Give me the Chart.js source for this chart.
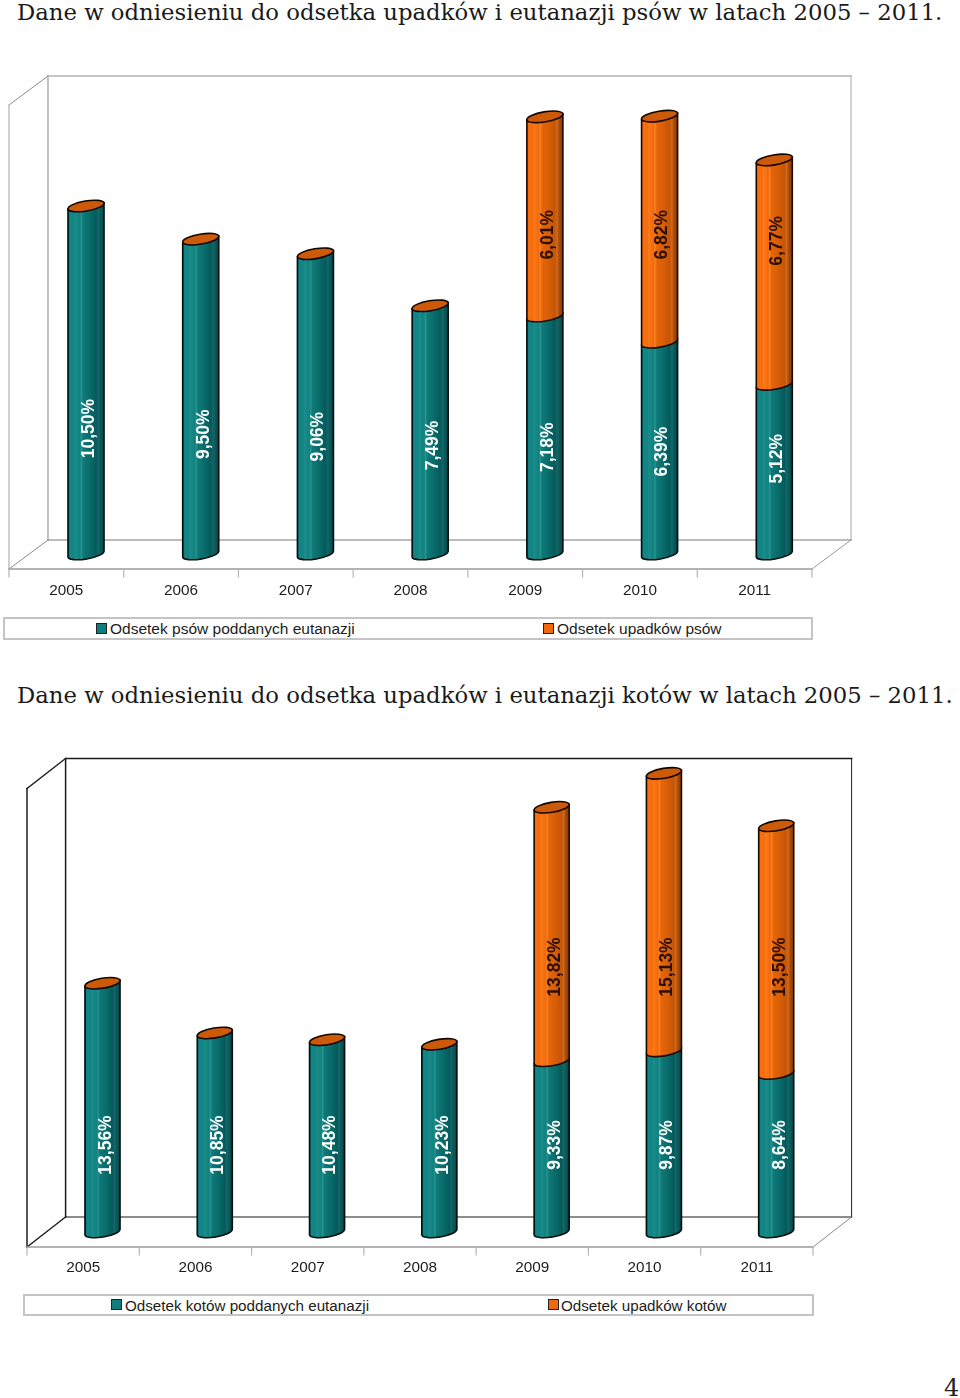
<!DOCTYPE html>
<html lang="pl"><head><meta charset="utf-8">
<script src="https://cdn.jsdelivr.net/npm/chart.js@4"></script>
<style>
html,body{margin:0;padding:0;background:#fff}
#page{position:relative;width:960px;height:1398px;overflow:hidden}
canvas{position:absolute;left:0}
.title{position:absolute;left:17px;font-family:"DejaVu Serif",serif;font-size:22.75px;color:#1a1a1a;white-space:nowrap;line-height:26px}
.legend{position:absolute;border:2px solid #c4c4c4;box-sizing:border-box;background:#fff}
.item{position:absolute;top:0;font-family:"Liberation Sans",Arial,sans-serif;color:#1c1c1c;white-space:nowrap;line-height:20px}
.sw{position:absolute;width:9px;height:9px;border:1px solid #222;box-sizing:content-box}
#pn{position:absolute;left:944px;top:1374px;font:24px "DejaVu Serif",serif;color:#222}
</style></head><body>
<div id="page">
<div class="title" id="t1" style="top:-1px">Dane w odniesieniu do odsetka upadków i eutanazji psów w latach 2005 – 2011.</div>
<canvas id="c1" width="960" height="545" style="top:60px"></canvas>
<div class="legend" id="l1" style="left:3px;top:617px;width:810px;height:23px"></div>
<div class="title" id="t2" style="top:682px">Dane w odniesieniu do odsetka upadków i eutanazji kotów w latach 2005 – 2011.</div>
<canvas id="c2" width="960" height="540" style="top:745px"></canvas>
<div class="legend" id="l2" style="left:23px;top:1294px;width:791px;height:22px"></div>
<div id="pn">4</div>
</div>
<script>
const categories = ['2005','2006','2007','2008','2009','2010','2011'];
const dogsEuthanized = [10.50, 9.50, 9.06, 7.49, 7.18, 6.39, 5.12];
const dogsAccidents  = [0, 0, 0, 0, 6.01, 6.82, 6.77];
const catsEuthanized = [13.56, 10.85, 10.48, 10.23, 9.33, 9.87, 8.64];
const catsAccidents  = [0, 0, 0, 0, 13.82, 15.13, 13.50];
const dogLegend = ['Odsetek psów poddanych eutanazji','Odsetek upadków psów'];
const catLegend = ['Odsetek kotów poddanych eutanazji','Odsetek upadków kotów'];

const TEAL = '#0e7d7b', ORANGE = '#f06a0c';
const tealStops = [[0,'#0a6f6d'],[.06,'#11868a'],[.16,'#128482'],[.2,'#1b8c89'],[.33,'#0f8280'],[.37,'#29938f'],[.42,'#0e7a78'],[.6,'#096c6b'],[.78,'#045a5b'],[.84,'#176667'],[.9,'#0a5a5b'],[1,'#044547']];
const orangeStops = [[0,'#e06006'],[.06,'#fb700e'],[.16,'#f46c0b'],[.2,'#fb7a1c'],[.33,'#ef6a0a'],[.37,'#fc8124'],[.42,'#e66507'],[.6,'#d85e07'],[.78,'#c65505'],[.84,'#cd6a24'],[.9,'#ab4a05'],[1,'#853a05']];

const cyl3d = {
  id:'cyl3d',
  beforeDatasetsDraw(chart,a,o){
    const c=chart.ctx, s=chart.scales.x, f=o.frame;
    const fl=s.left-o.shift, fr=s.right-o.shift, fb=chart.scales.y.getPixelForValue(0)+f.drop;
    const ft=f.top, bl=fl+f.dx, br=fr+f.dx, bb=fb-f.dy, bt=ft-f.dy;
    c.save();c.lineCap='square';
    const ln=(col,w,pts)=>{c.strokeStyle=col;c.lineWidth=w;c.beginPath();pts.forEach((p,i)=>i?c.lineTo(p[0],p[1]):c.moveTo(p[0],p[1]));c.stroke();};
    ln(f.wall,f.w,[[bl,bb],[bl,bt],[br,bt]]);
    ln(f.wallThin,1,[[br,bt],[br,bb]]);
    ln(f.floor,1.2,[[bl,bb],[br,bb]]);
    ln(f.side,f.sw,[[fl,ft],[bl,bt]]);
    ln(f.front,f.w,[[fl,ft],[fl,fb]]);
    ln(f.side,f.sw,[[fl,fb],[bl,bb]]);
    ln(f.corner,1,[[fr,fb],[br,bb]]);
    ln('#9a9a9a',1.3,[[fl,fb],[fr,fb]]);
    const slot=(fr-fl)/categories.length;
    for(let i=0;i<=categories.length;i++){const x=fl+i*slot;ln('#b5b5b5',1.2,[[x,fb],[x,fb+8]]);}
    c.restore();
  },
  beforeDatasetDraw(){return false;},
  afterDatasetsDraw(chart,a,o){
    const c=chart.ctx, tilt=-0.165, ry=5, zero=chart.scales.y.getPixelForValue(0);
    chart.data.datasets.forEach((ds,di)=>{
      const stops=di?orangeStops:tealStops, stroke=di?'#1c0a00':'#000d0d';
      chart.getDatasetMeta(di).data.forEach((b,i)=>{
        const hw=b.width/2, t=Math.tan(-tilt)*hw, rx=hw/Math.cos(tilt);
        if(ds.data[i]>0){
          const g=c.createLinearGradient(b.x-hw,0,b.x+hw,0);stops.forEach(s=>g.addColorStop(s[0],s[1]));
          c.beginPath();c.moveTo(b.x-hw,b.y+t);c.lineTo(b.x+hw,b.y-t);c.lineTo(b.x+hw,b.base-t);
          c.ellipse(b.x,b.base,rx,ry,tilt,0,Math.PI);c.closePath();
          c.fillStyle=g;c.fill();c.strokeStyle=stroke;c.lineWidth=1.6;c.stroke();
        }
        if(di===1){
          c.beginPath();c.ellipse(b.x,b.y,rx,ry,tilt,0,Math.PI*2);
          c.fillStyle='#cd5a08';c.fill();c.strokeStyle='#120600';c.lineWidth=1.6;c.stroke();
        }
      });
    });
    chart.data.datasets.forEach((ds,di)=>{
      const p=o.labels[di];
      chart.getDatasetMeta(di).data.forEach((b,i)=>{
        if(!(ds.data[i]>0))return;
        const H=zero-b.y, y=zero-(p[0]+p[1]*H);
        c.save();c.translate(b.x+o.labelDx,y);c.rotate(-Math.PI/2);
        c.font='bold 17.5px "Liberation Sans",Arial,sans-serif';
        c.textAlign='center';c.textBaseline='middle';c.fillStyle=di?'#2a1000':'#ffffff';
        c.fillText(ds.data[i].toFixed(2).replace('.',',')+'%',0,0);c.restore();
      });
    });
  }
};

function build(id,series,names,cfg){
  return new Chart(document.getElementById(id),{
    type:'bar',
    data:{labels:categories,datasets:[
      {label:names[0],data:series[0],backgroundColor:TEAL,stack:'s'},
      {label:names[1],data:series[1],backgroundColor:ORANGE,stack:'s'}]},
    plugins:[cyl3d],
    options:{
      responsive:false,animation:false,devicePixelRatio:1,
      layout:{padding:cfg.padding},
      datasets:{bar:{categoryPercentage:1,barPercentage:cfg.barPct}},
      plugins:{legend:{display:false},tooltip:{enabled:false},title:{display:false},
        cyl3d:{shift:cfg.shift,frame:cfg.frame,labels:cfg.labels,labelDx:cfg.labelDx}},
      scales:{
        x:{stacked:true,grid:{display:false},border:{display:false},
          afterFit(s){s.height=cfg.axisH;},
          ticks:{autoSkip:false,maxRotation:0,labelOffset:-cfg.shift,padding:cfg.tickPad,color:'#1c1c1c',
            font:{family:'"Liberation Sans",Arial,sans-serif',size:15.3}}},
        y:{stacked:true,display:false,min:0,max:cfg.max}
      }
    }
  });
}
build('c1',[dogsEuthanized,dogsAccidents],dogLegend,{
  padding:{left:28.65,right:128.35,top:30,bottom:0},axisH:51,tickPad:20,max:14,barPct:.314,shift:19.65,labelDx:3,
  labels:[[66.6,.169],[258,.14]],
  frame:{top:45,dx:39,dy:29,drop:15,wall:'#b4b4b4',wallThin:'#a8a8a8',floor:'#7a7a7a',side:'#8a8a8a',front:'#c4c4c4',corner:'#9a9a9a',w:1.6,sw:1}
});
build('c2',[catsEuthanized,catsAccidents],catLegend,{
  padding:{left:46.35,right:127.65,top:10,bottom:0},axisH:53,tickPad:19,max:26,barPct:.312,shift:19.35,labelDx:3.5,
  labels:[[87,0],[265,0]],
  frame:{top:43.5,dx:38.6,dy:30,drop:15,wall:'#1c1c1c',wallThin:'#1c1c1c',floor:'#1c1c1c',side:'#1c1c1c',front:'#1c1c1c',corner:'#8a8a8a',w:1.5,sw:1.4}
});
function legend(id,names,pos,size){
  const el=document.getElementById(id);
  names.forEach((n,i)=>{
    const sw=document.createElement('div');sw.className='sw';
    sw.style.cssText+=`left:${pos[i][0]}px;top:${pos[2]}px;background:${i?ORANGE:TEAL}`;
    const t=document.createElement('div');t.className='item';t.textContent=n;t.style.left=pos[i][1]+'px';t.style.fontSize=size+'px';
    el.append(sw,t);
  });
}
legend('l1',dogLegend,[[91,105],[538,552],4],15.5);
legend('l2',catLegend,[[86,100],[523,536],3],15.2);
</script>
</body></html>
